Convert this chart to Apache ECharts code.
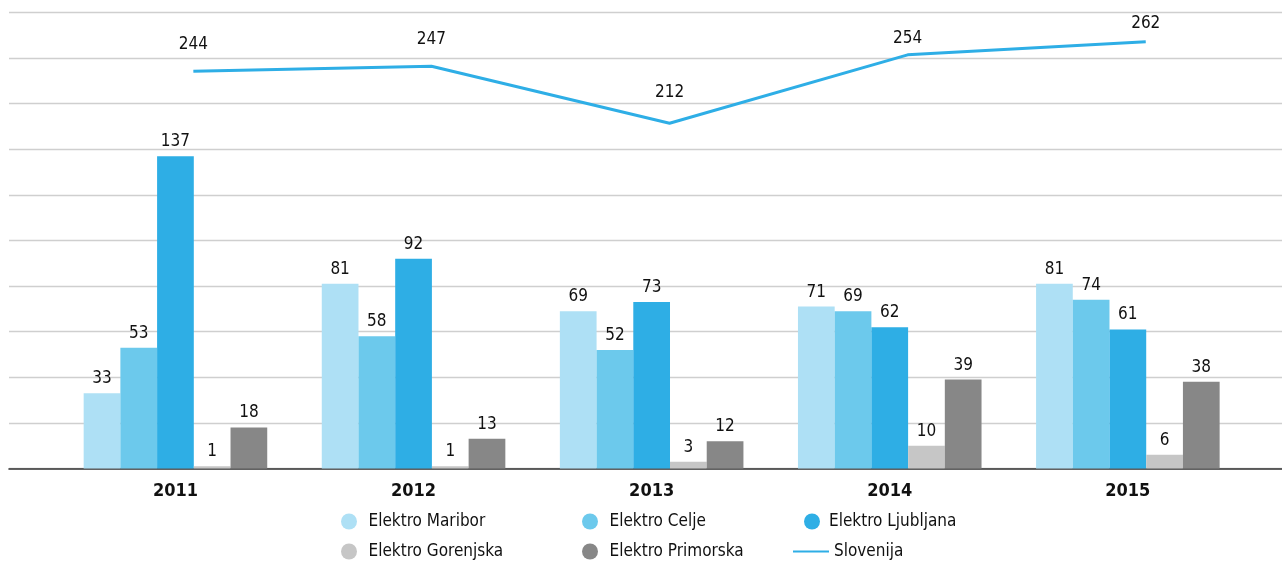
<!DOCTYPE html>
<html>
<head>
<meta charset="utf-8">
<script src="https://cdn.jsdelivr.net/npm/echarts@6/dist/echarts.min.js"></script>
<style>
html,body{margin:0;padding:0;background:#fff;}
#chart{width:1282px;height:563px;}
</style>
</head>
<body>
<div id="chart"></div>
<script>
// ---- data ----
const years = ['2011', '2012', '2013', '2014', '2015'];
const elektroMaribor = [33, 81, 69, 71, 81];
const elektroCelje = [53, 58, 52, 69, 74];
const elektroLjubljana = [137, 92, 73, 62, 61];
const elektroGorenjska = [1, 1, 3, 10, 6];
const elektroPrimorska = [18, 13, 12, 39, 38];
const slovenija = [244, 247, 212, 254, 262];

// ---- style ----
const FONT = "'Liberation Sans Narrow', 'DejaVu Sans Condensed', 'Liberation Sans', sans-serif";
const TXT = '#111111';
const colors = {
  maribor: '#aee0f5',
  celje: '#6cc9ec',
  ljubljana: '#2eaee5',
  gorenjska: '#c6c6c6',
  primorska: '#878787',
  slovenija: '#2eaee6'
};
const lineLabelNudge = [-3, -3, -7, 7, 5];

const GRID_TOP = 12.5, GRID_H = 456;
const CAT_W = 238.1;

const barLabel = {
  show: true, position: 'top', distance: 6,
  fontFamily: FONT, fontSize: 17, color: TXT
};

function barSeries(name, values, color) {
  return {
    name: name, type: 'bar', xAxisIndex: 1, yAxisIndex: 1,
    data: values, barGap: '0%', barCategoryGap: '22.9%',
    itemStyle: { color: color },
    label: barLabel
  };
}

function legendItem(name, left, top, iconW, extra) {
  return {
    left: left, top: top, padding: 0,
    itemWidth: iconW, itemHeight: 16,
    textStyle: { fontFamily: FONT, fontSize: 17, color: TXT },
    data: [Object.assign({ name: name }, extra || { icon: 'circle' })]
  };
}

const option = {
  animation: false,
  backgroundColor: '#fff',
  grid: [
    { left: 9, right: 0, top: GRID_TOP, height: GRID_H },
    { left: 56.4, width: CAT_W * 5, top: GRID_TOP, height: GRID_H },
    { left: 74.3, width: CAT_W * 5, top: GRID_TOP, height: GRID_H }
  ],
  xAxis: [
    { gridIndex: 0, type: 'category', data: years,
      axisLine: { show: true, lineStyle: { color: '#333', width: 1.6 } },
      axisTick: { show: false }, axisLabel: { show: false } },
    { gridIndex: 1, type: 'category', data: years,
      axisLine: { show: false }, axisTick: { show: false },
      axisLabel: { margin: 14, fontFamily: FONT, fontSize: 18, fontWeight: 'bold', color: TXT } },
    { gridIndex: 2, type: 'category', data: years, show: false }
  ],
  yAxis: [
    { gridIndex: 0, type: 'value', min: 0, max: 200, interval: 20,
      axisLine: { show: false }, axisTick: { show: false }, axisLabel: { show: false },
      splitLine: { show: true, lineStyle: { color: '#cfcfcf', width: 1.3 } } },
    { gridIndex: 1, type: 'value', min: 0, max: 200, interval: 20, show: false,
      splitLine: { show: false } },
    { gridIndex: 2, type: 'value', min: 0, max: 280, interval: 20, show: false,
      splitLine: { show: false } }
  ],
  legend: [
    legendItem('Elektro Maribor', 341, 513, 29),
    legendItem('Elektro Gorenjska', 341, 543, 29),
    legendItem('Elektro Celje', 582, 513, 29),
    legendItem('Elektro Primorska', 582, 543, 29),
    legendItem('Elektro Ljubljana', 804, 513, 24),
    legendItem('Slovenija', 792, 543, 36, { itemStyle: { opacity: 0 } })
  ],
  series: [
    barSeries('Elektro Maribor', elektroMaribor, colors.maribor),
    barSeries('Elektro Celje', elektroCelje, colors.celje),
    barSeries('Elektro Ljubljana', elektroLjubljana, colors.ljubljana),
    barSeries('Elektro Gorenjska', elektroGorenjska, colors.gorenjska),
    barSeries('Elektro Primorska', elektroPrimorska, colors.primorska),
    {
      name: 'Slovenija', type: 'line', xAxisIndex: 2, yAxisIndex: 2,
      data: slovenija.map((v, i) => ({
        value: v,
        label: { offset: [0, lineLabelNudge[i]] }
      })),
      symbol: 'circle', symbolSize: 0.01, showSymbol: true,
      itemStyle: { color: colors.slovenija },
      lineStyle: { color: colors.slovenija, width: 3 },
      label: { show: true, position: 'top', distance: 15,
               fontFamily: FONT, fontSize: 17, color: TXT }
    }
  ]
};

const chart = echarts.init(document.getElementById('chart'), null, { renderer: 'canvas' });
chart.setOption(option);
</script>
</body>
</html>
